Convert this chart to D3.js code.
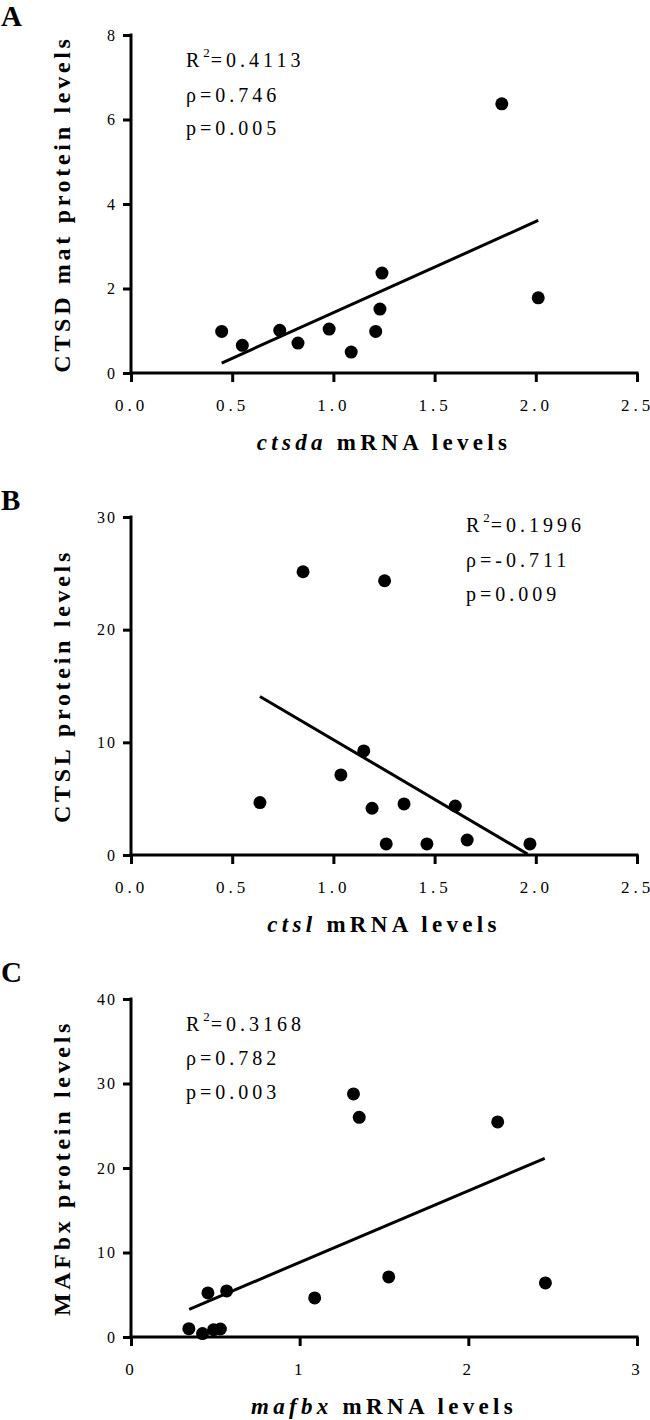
<!DOCTYPE html>
<html>
<head>
<meta charset="utf-8">
<script src="https://cdn.jsdelivr.net/npm/d3@7"></script>
<style>
  html, body { margin: 0; padding: 0; background: #fff; }
  svg { display: block; }
  text { font-family: "Liberation Serif", "Times New Roman", serif; fill: #000; }
</style>
</head>
<body>
<svg id="chart" width="650" height="1420"></svg>
<script>
// ---------- DATA ----------
// Panel A: ctsda mRNA vs CTSD mat protein
const ctsdaMRNA = [0.448, 0.55, 0.735, 0.825, 0.979, 1.088, 1.209, 1.23, 1.24, 1.832, 2.012];
const ctsdProtein = [0.985, 0.654, 1.01, 0.709, 1.04, 0.496, 0.985, 1.513, 2.364, 6.37, 1.78];
const ctsdFitX = [0.448, 2.012];
const ctsdFitY = [0.236, 3.61];
const ctsdStats = ["0.4113", "0.746", "0.005"];

// Panel B: ctsl mRNA vs CTSL protein
const ctslMRNA = [0.85, 1.253, 1.15, 1.037, 0.637, 1.191, 1.349, 1.602, 1.261, 1.462, 1.661, 1.971];
const ctslProtein = [25.14, 24.34, 9.24, 7.11, 4.65, 4.15, 4.53, 4.35, 0.98, 0.98, 1.33, 0.98];
const ctslFitX = [0.637, 1.959];
const ctslFitY = [14.07, 0.09];
const ctslStats = ["0.1996", "-0.711", "0.009"];

// Panel C: mafbx mRNA vs MAFbx protein
const mafbxMRNA = [1.319, 1.353, 2.174, 1.528, 2.457, 1.089, 0.567, 0.456, 0.343, 0.424, 0.49, 0.53];
const mafbxProtein = [28.77, 26.0, 25.45, 7.11, 6.40, 4.62, 5.45, 5.22, 0.99, 0.40, 0.87, 0.95];
const mafbxFitX = [0.345, 2.453];
const mafbxFitY = [3.28, 21.15];
const mafbxStats = ["0.3168", "0.782", "0.003"];

// Axes ticks
const xTicksAB = [0, 0.5, 1.0, 1.5, 2.0, 2.5];
const xTicksC = [0, 1, 2, 3];
const yTicksA = [0, 2, 4, 6, 8];
const yTicksB = [0, 10, 20, 30];
const yTicksC = [0, 10, 20, 30, 40];

// ---------- LAYOUT ----------
const svg = d3.select("#chart");
const xLeft = 131, xRight = 637;
const FONT = "Liberation Serif, Times New Roman, serif";

const panels = [
  { label: "A", labelY: 26, top: 35, bottom: 373,
    xs: ctsdaMRNA, ys: ctsdProtein, fx: ctsdFitX, fy: ctsdFitY, stats: ctsdStats,
    xDomain: [0, 2.5], yDomain: [0, 8], xTicks: xTicksAB, yTicks: yTicksA, xFmt: d3.format(".1f"),
    xTitleItalic: "ctsda", yTitle: "CTSD mat protein levels",
    statX: 186, statY: [67, 102, 135] },
  { label: "B", labelY: 510, top: 517, bottom: 855,
    xs: ctslMRNA, ys: ctslProtein, fx: ctslFitX, fy: ctslFitY, stats: ctslStats,
    xDomain: [0, 2.5], yDomain: [0, 30], xTicks: xTicksAB, yTicks: yTicksB, xFmt: d3.format(".1f"),
    xTitleItalic: "ctsl", yTitle: "CTSL protein levels",
    statX: 466, statY: [532, 567, 601] },
  { label: "C", labelY: 982, top: 999, bottom: 1337,
    xs: mafbxMRNA, ys: mafbxProtein, fx: mafbxFitX, fy: mafbxFitY, stats: mafbxStats,
    xDomain: [0, 3], yDomain: [0, 40], xTicks: xTicksC, yTicks: yTicksC, xFmt: d3.format("d"),
    xTitleItalic: "mafbx", yTitle: "MAFbx protein levels",
    statX: 186, statY: [1031, 1065, 1099] }
];

panels.forEach(p => {
  const g = svg.append("g");
  const x = d3.scaleLinear().domain(p.xDomain).range([xLeft, xRight]);
  const y = d3.scaleLinear().domain(p.yDomain).range([p.bottom, p.top]);

  // panel label
  g.append("text").attr("x", 1).attr("y", p.labelY)
    .attr("font-size", 29).attr("font-weight", "bold").text(p.label);

  // x axis
  const xAxis = d3.axisBottom(x).tickValues(p.xTicks).tickFormat(p.xFmt)
    .tickSize(9).tickPadding(17);
  const gx = g.append("g").attr("transform", `translate(0,${p.bottom})`).call(xAxis);
  gx.select(".domain").attr("stroke", "#000").attr("stroke-width", 3)
    .attr("d", `M${xLeft - 1.5},0H${xRight + 1.5}`);
  gx.selectAll(".tick line").attr("stroke", "#000").attr("stroke-width", 3);
  gx.selectAll(".tick text").attr("font-size", 17).attr("letter-spacing", 4)
    .attr("font-family", FONT).attr("fill", "#000");

  // y axis
  const yAxis = d3.axisLeft(y).tickValues(p.yTicks).tickFormat(d3.format("d"))
    .tickSize(8).tickPadding(6);
  const gy = g.append("g").attr("transform", `translate(${xLeft},0)`).call(yAxis);
  gy.select(".domain").attr("stroke", "#000").attr("stroke-width", 3)
    .attr("d", `M0,${p.top - 1.5}V${p.bottom + 1.5}`);
  gy.selectAll(".tick line").attr("stroke", "#000").attr("stroke-width", 3);
  gy.selectAll(".tick text").attr("font-size", 16).attr("letter-spacing", 2)
    .attr("font-family", FONT).attr("fill", "#000");

  // fit line
  const line = d3.line().x(d => x(d[0])).y(d => y(d[1]));
  g.append("path").datum(d3.zip(p.fx, p.fy)).attr("d", line)
    .attr("fill", "none").attr("stroke", "#000").attr("stroke-width", 3);

  // points
  g.selectAll("circle.pt").data(d3.zip(p.xs, p.ys)).join("circle")
    .attr("class", "pt").attr("cx", d => x(d[0])).attr("cy", d => y(d[1]))
    .attr("r", 6.5).attr("fill", "#000");

  // stats text
  const s1 = g.append("text").attr("x", p.statX).attr("y", p.statY[0])
    .attr("font-size", 20).attr("letter-spacing", 4);
  s1.append("tspan").text("R");
  s1.append("tspan").attr("font-size", 13).attr("dy", -10).attr("letter-spacing", 1).text("2");
  s1.append("tspan").attr("dy", 10).text("=" + p.stats[0]);
  g.append("text").attr("x", p.statX).attr("y", p.statY[1])
    .attr("font-size", 20).attr("letter-spacing", 4).text("\u03C1=" + p.stats[1]);
  g.append("text").attr("x", p.statX).attr("y", p.statY[2])
    .attr("font-size", 20).attr("letter-spacing", 4).text("p=" + p.stats[2]);

  // x title
  const xt = g.append("text").attr("x", (xLeft + xRight) / 2).attr("y", p.bottom + 77)
    .attr("text-anchor", "middle").attr("font-size", 23).attr("font-weight", "bold")
    .attr("letter-spacing", 4.3);
  xt.append("tspan").attr("font-style", "italic").text(p.xTitleItalic);
  xt.append("tspan").text(" mRNA levels");

  // y title
  g.append("text")
    .attr("transform", `translate(70,${(p.top + p.bottom) / 2}) rotate(-90)`)
    .attr("text-anchor", "middle").attr("font-size", 24).attr("font-weight", "bold")
    .attr("letter-spacing", 3.7).text(p.yTitle);
});
</script>
</body>
</html>
